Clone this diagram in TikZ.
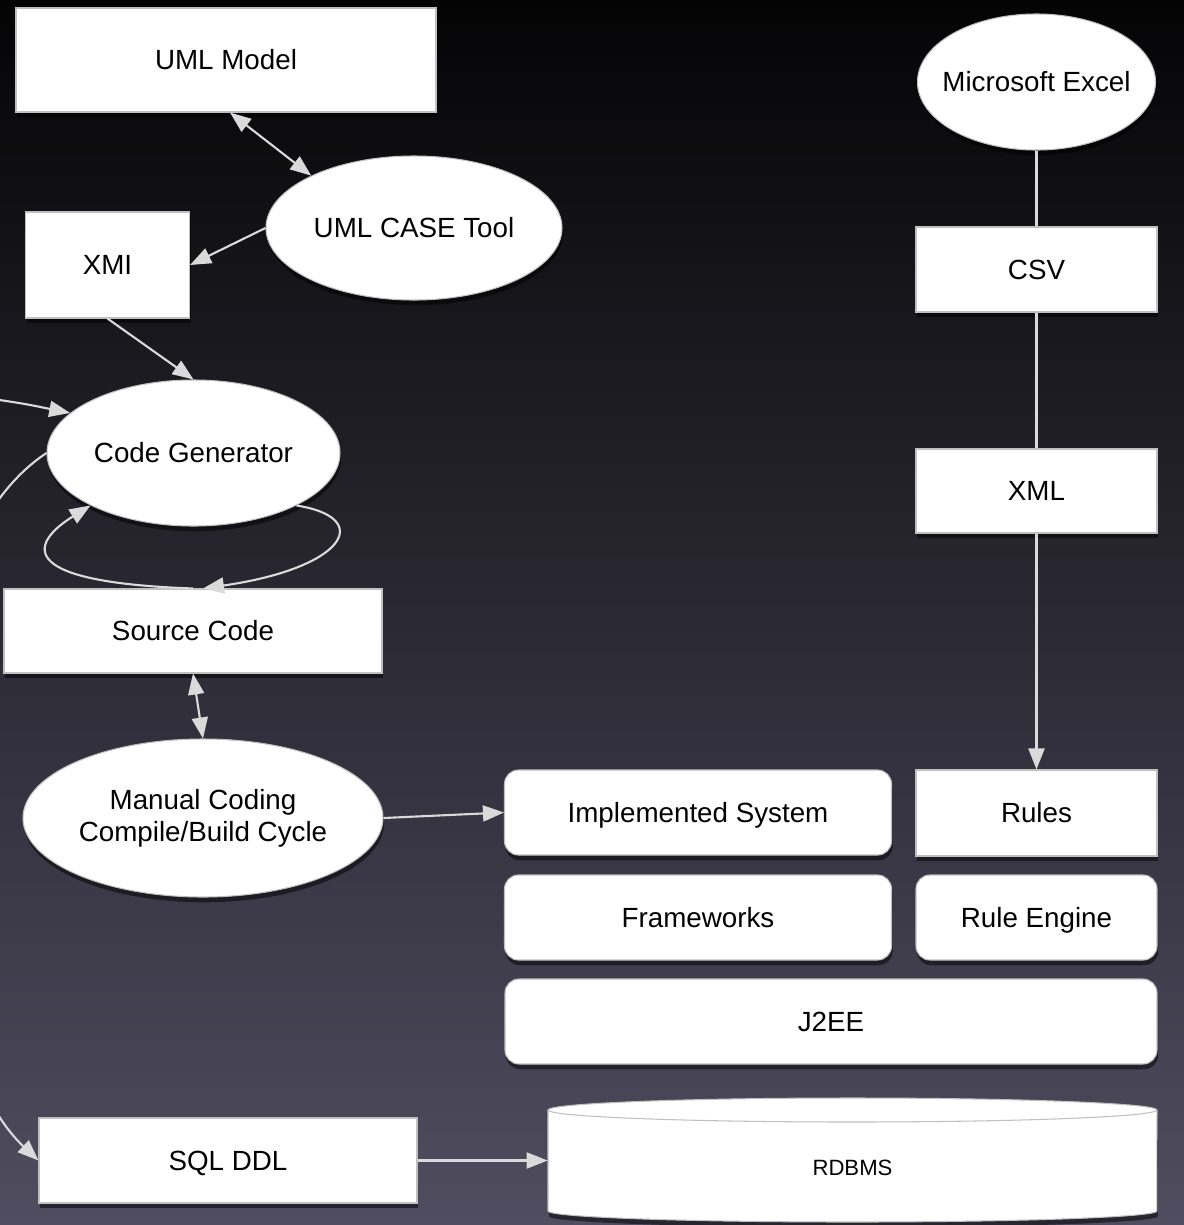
\documentclass[tikz,border=0pt]{standalone}
\usepackage{fontspec}
\setmainfont{Liberation Sans}
\usetikzlibrary{shapes.geometric,arrows.meta,shadows}
\definecolor{bgtop}{RGB}{4,4,5}
\definecolor{bgmid}{RGB}{36,35,44}
\definecolor{bgbot}{RGB}{80,77,96}
\definecolor{wirecol}{RGB}{218,218,218}
\definecolor{rim}{RGB}{192,192,192}
\begin{document}
\begin{tikzpicture}[x=0.02cm,y=-0.02cm,
  font=\fontsize{15.8}{18.2}\selectfont,
  shadowed/.style={drop shadow={shadow xshift=0.6pt,shadow yshift=-3pt,opacity=0.5,fill=black}},
  base/.style={fill=white,draw=rim,line width=0.6pt,inner sep=0pt,shadowed,text=black,align=center,
    text height=11.3pt,text depth=0pt},
  box/.style 2 args={base,rectangle,minimum width=#1*0.02cm,minimum height=#2*0.02cm},
  rbox/.style 2 args={box={#1}{#2},rounded corners=0.28cm},
  oval/.style 2 args={base,ellipse,minimum width=#1*0.02cm,minimum height=#2*0.02cm},
  wire/.style={draw=wirecol,line width=1.2pt},
  tip/.tip={Triangle[length=0.42cm,width=0.32cm]},
  arr/.style={wire,-tip},
  both/.style={wire,tip-tip}]

% background
\shade[top color=bgtop,middle color=bgmid,bottom color=bgbot] (0,0) rectangle (1184,1225);
\useasboundingbox (0,0) rectangle (1184,1225);

% modelling chain
\node[box={420}{104}] (uml) at (226,60) {UML Model};
\node[oval={296}{144}] (casetool) at (414,228) {UML CASE Tool};
\node[box={164}{106}] (xmi) at (107.5,265) {XMI};
\node[oval={293}{146}] (cg) at (193.5,453) {Code Generator};
\node[box={378}{84}] (src) at (193,631) {Source Code};
\node[oval={360}{158},text height=,text depth=] (manual) at (203,818) {Manual Coding\\Compile/Build Cycle};
\node[box={378}{85}] (sql) at (228,1160.5) {SQL DDL};

% spreadsheet chain
\node[oval={238}{136},inner xsep=-0.3cm] (excel) at (1036.5,82) {Microsoft Excel};
\node[box={241}{85}] (csv) at (1036.5,269.5) {CSV};
\node[box={241}{84}] (xml) at (1036.5,491) {XML};

% runtime stack
\node[rbox={387}{85}] (impl) at (698,812.5) {Implemented System};
\node[box={241}{86}] (rules) at (1036.5,813) {Rules};
\node[rbox={387}{85}] (fw) at (698,917.5) {Frameworks};
\node[rbox={241}{85}] (re) at (1036.5,917.5) {Rule Engine};
\node[rbox={652}{85}] (j2ee) at (831,1021.5) {J2EE};

% database cylinder
\path[fill=white,draw=rim,line width=0.6pt,shadowed]
  (548,1110) -- (548,1211)
  arc[start angle=180,end angle=360,x radius=6.09cm,y radius=0.22cm]
  -- (1157,1110)
  arc[start angle=0,end angle=180,x radius=6.09cm,y radius=0.24cm] -- cycle;
\draw[rim,line width=0.6pt] (548,1110)
  arc[start angle=180,end angle=360,x radius=6.09cm,y radius=0.24cm];
\node[minimum width=609*0.02cm,minimum height=101*0.02cm,inner sep=0pt] (rdbms) at (852.5,1160.5) {};
\node[font=\fontsize{12.6}{15}\selectfont,text height=9pt,text depth=0pt,inner sep=0pt] (rdbmstext) at (852.5,1168) {RDBMS};

% connectors
\coordinate (offin) at (-40,395);
\draw[both] ([xshift=0.08cm]uml.south) -- (casetool.153);
\draw[arr] (casetool.west) -- (xmi.east);
\draw[arr] (xmi.south) -- (cg.north);
\draw[arr] (offin) .. controls (20,402) and (35,406) .. (cg.162);
\draw[arr] (cg.west) .. controls (-130,570) and (-90,1040) .. (sql.west);
\draw[arr] (cg.-27) .. controls (375,518) and (345,568) .. ([xshift=0.2cm]src.north);
\draw[arr] (src.north) .. controls (5,582) and (35,540) .. (cg.207);
\draw[both] (src.south) -- (manual.north);
\draw[arr] (manual.east) -- (impl.west);
\draw[wire] (excel.south) -- (csv.north);
\draw[wire] (csv.south) -- (xml.north);
\draw[arr] (xml.south) -- (rules.north);
\draw[arr] (sql.east) -- (rdbms.west);
\end{tikzpicture}
\end{document}
